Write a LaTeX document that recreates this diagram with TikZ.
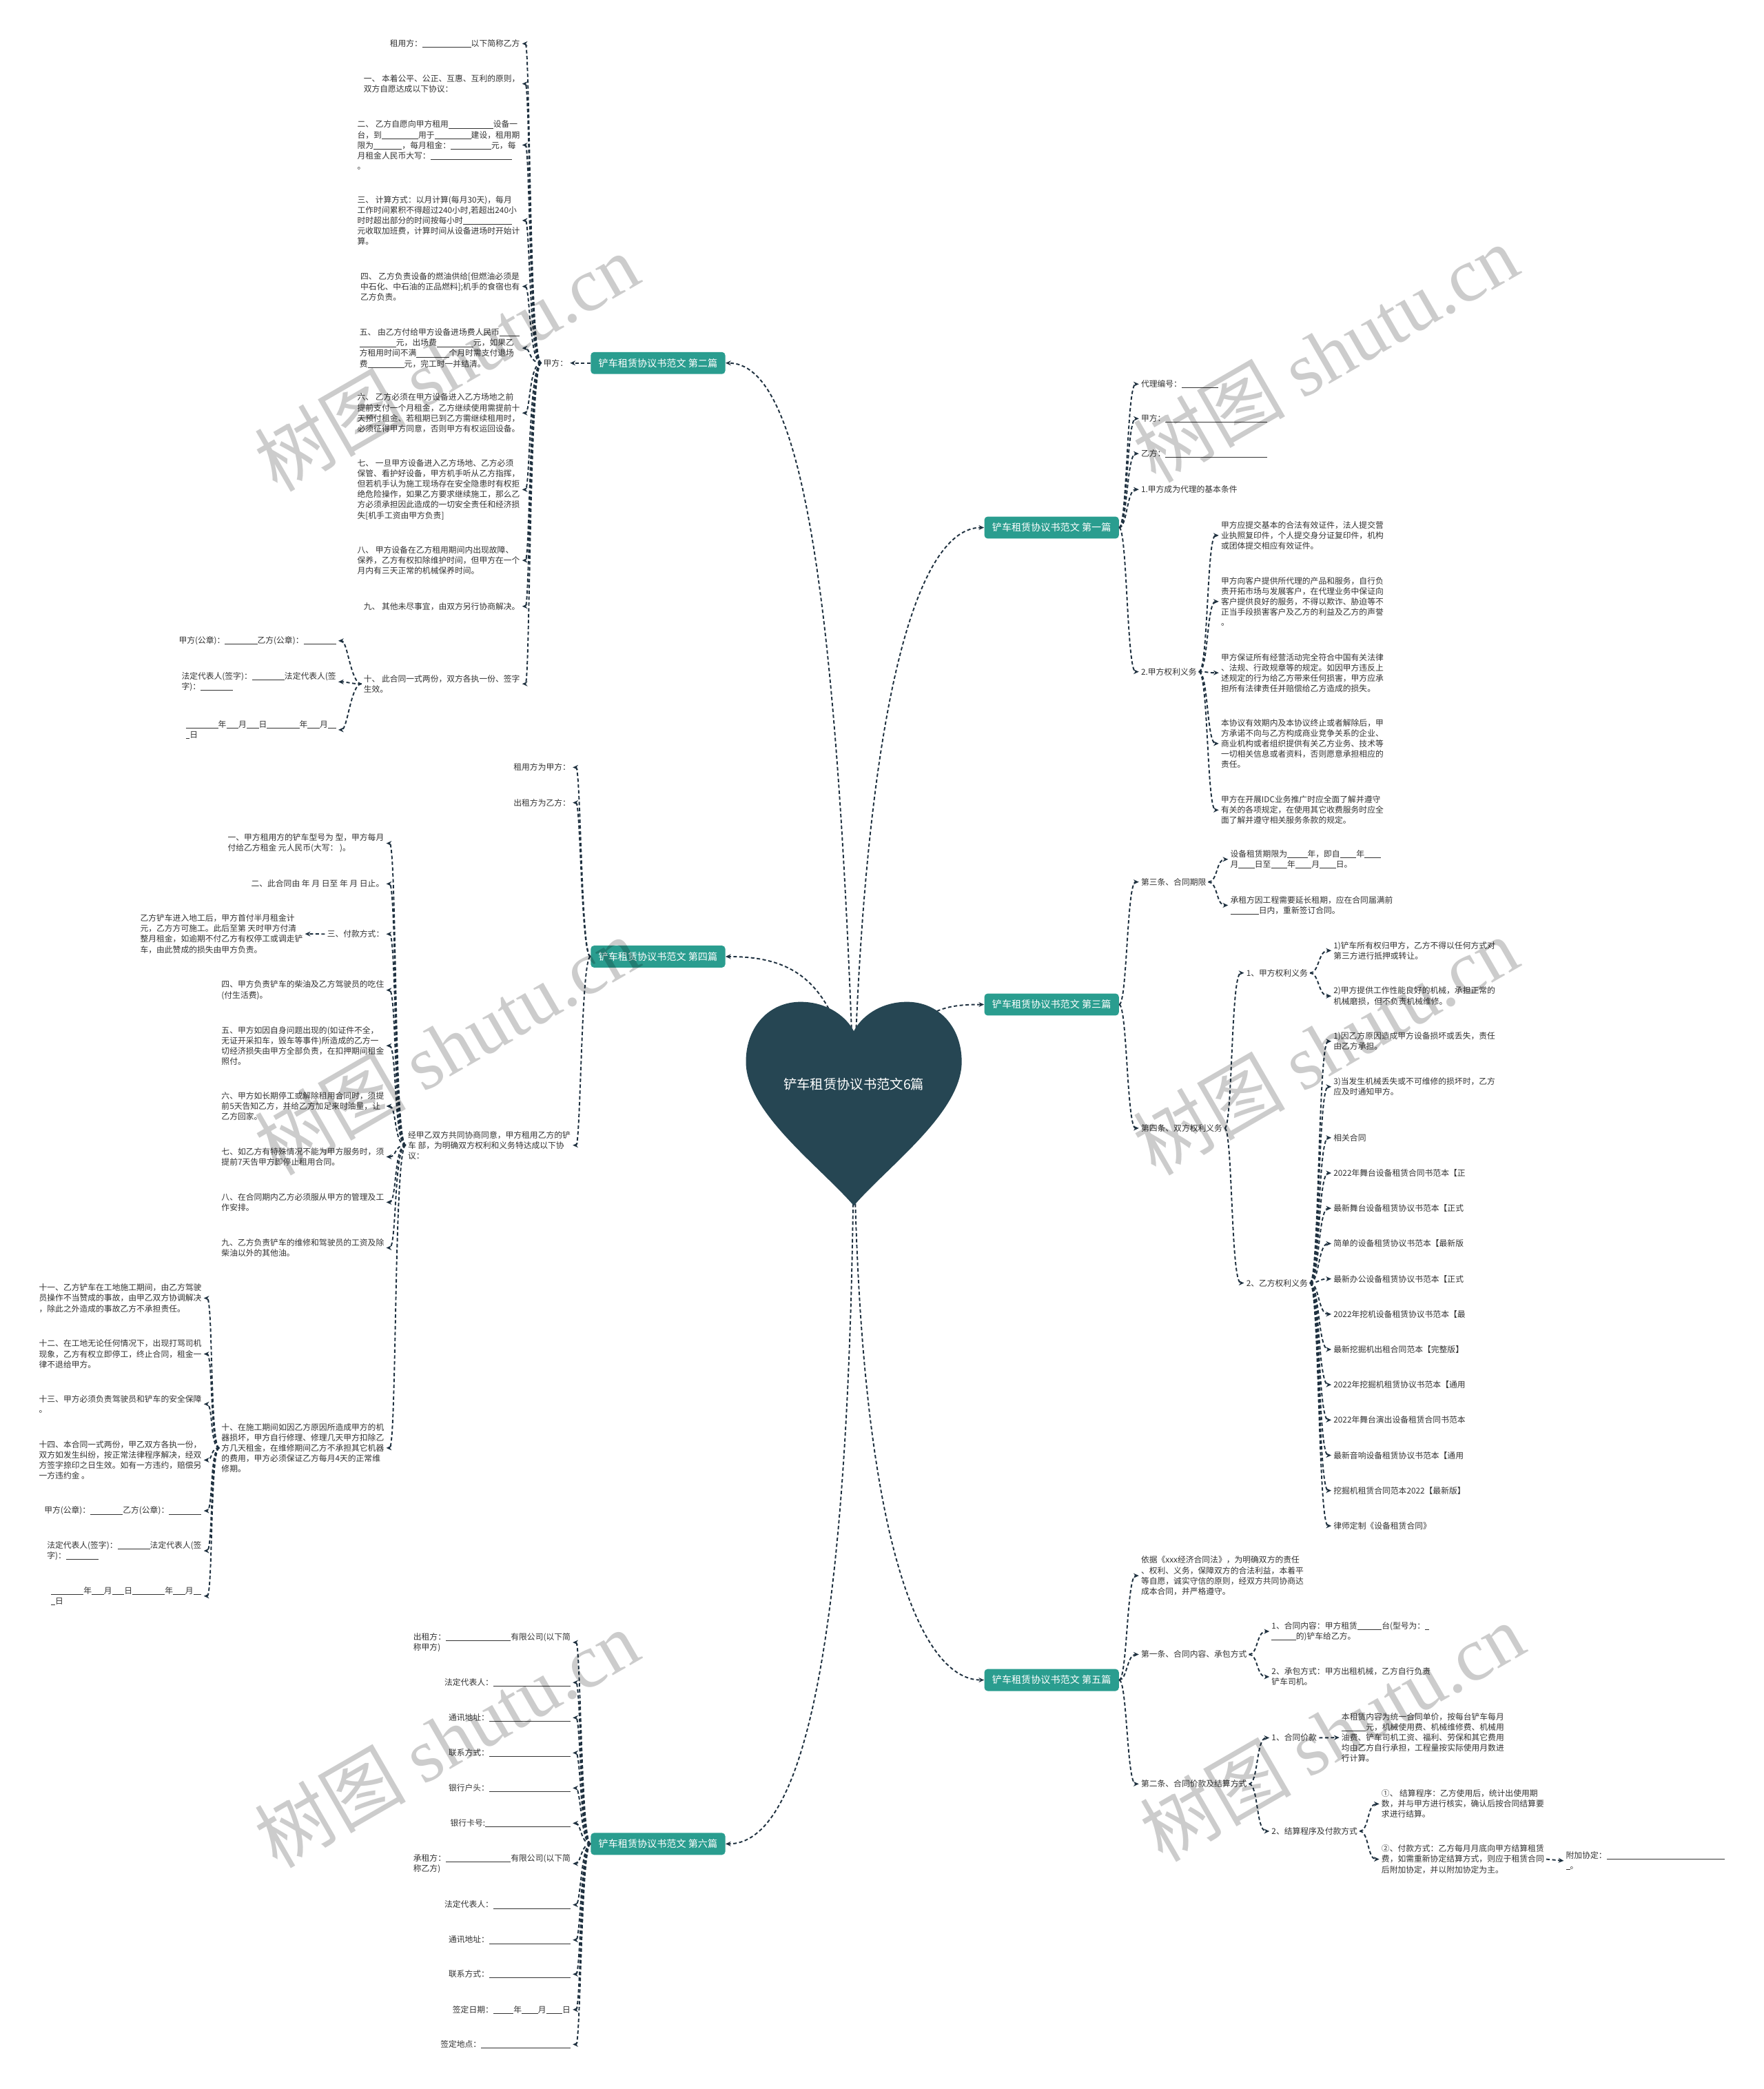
\documentclass[tikz,border=0pt]{standalone}
\usepackage{fontspec}
\setmainfont{Noto Sans CJK SC}
\newfontfamily\wmlatin{Liberation Serif}
\usetikzlibrary{arrows.meta}
\definecolor{raiz}{HTML}{264653}
\definecolor{rama}{HTML}{2A9D8F}
\definecolor{enlace}{HTML}{1F3140}
\definecolor{texto}{HTML}{333333}
\newcommand{\xblank}[1]{\rule[-0.12em]{\dimexpr#1em/2\relax}{0.06em}}

\begin{document}
\begin{tikzpicture}[x=1pt, y=-1pt,
  hoja/.style={font=\fontsize{6.1}{7.8}\selectfont, text=texto, inner sep=1.5pt, align=left},
  hojai/.style={hoja, anchor=east},
  hojad/.style={hoja, anchor=west},
  tema/.style={fill=rama, text=white, rounded corners=2.5pt, minimum width=101pt, minimum height=16.5pt, inner sep=0pt, font=\fontsize{7.3}{8}\selectfont},
  enl/.style={draw=enlace, line width=1pt, dash pattern=on 2.6pt off 1.8pt, -{Stealth[length=4pt,width=3.6pt]}},
  marca/.style={rotate=30, text=black, text opacity=0.2, font=\fontsize{57}{57}\selectfont}]
        \fill[white] (0,0) rectangle (1324,1568);
        \useasboundingbox (0,0) rectangle (1324,1568);
        \coordinate (hub) at (641,820);

        \node[tema] (t1) at (789.5,396) {铲车租赁协议书范文 第一篇};
        \node[tema] (t2) at (494,272.5) {铲车租赁协议书范文 第二篇};
        \node[tema] (t3) at (789.5,754) {铲车租赁协议书范文 第三篇};
        \node[tema] (t4) at (494,718) {铲车租赁协议书范文 第四篇};
        \node[tema] (t5) at (789.5,1261) {铲车租赁协议书范文 第五篇};
        \node[tema] (t6) at (494,1384) {铲车租赁协议书范文 第六篇};

        \draw[enl] (hub) .. controls (628,430) and (600,272.5) .. (t2.east);
        \draw[enl] (hub) .. controls (628,740) and (600,718) .. (t4.east);
        \draw[enl] (hub) .. controls (641,1250) and (600,1384) .. (t6.east);
        \draw[enl] (hub) .. controls (650,520) and (690,396) .. (t1.west);
        \draw[enl] (hub) .. controls (690,760) and (700,754) .. (t3.west);
        \draw[enl] (hub) .. controls (641,1150) and (690,1261) .. (t5.west);

        \fill[raiz] (641,905) .. controls (615,875) and (560,835) .. (560,797)
          .. controls (560,770) and (578,752) .. (601,752)
          .. controls (622,752) and (636,764) .. (641,774)
          .. controls (646,764) and (660,752) .. (681,752)
          .. controls (704,752) and (722,770) .. (722,797)
          .. controls (722,835) and (667,875) .. (641,905) -- cycle;
        \node[text=white, font=\fontsize{10}{12}\selectfont] (root) at (641,814) {铲车租赁协议书范文6篇};

        % 第二篇
        \node[hojai] (jf) at (428,272.5) {甲方：};
        \node[hojai] (a1) at (392,32.8) {租用方：\xblank{12}以下简称乙方};
        \node[hojai] (a2) at (392,62.9) {一、 本着公平、公正、互惠、互利的原则，\\双方自愿达成以下协议：};
        \node[hojai] (a3) at (392,108.9) {二、 乙方自愿向甲方租用\xblank{11}设备一\\台，到\xblank{9}用于\xblank{9}建设，租用期\\限为\xblank{7}，每月租金：\xblank{10}元，每\\月租金人民币大写：\xblank{20}\\。};
        \node[hojai] (a4) at (392,165.5) {三、 计算方式：以月计算(每月30天)，每月\\工作时间累积不得超过240小时,若超出240小\\时时超出部分的时间按每小时\xblank{12}\\元收取加班费，计算时间从设备进场时开始计\\算。};
        \node[hojai] (a5) at (392,215) {四、 乙方负责设备的燃油供给[但燃油必须是\\中石化、中石油的正品燃料];机手的食宿也有\\乙方负责。};
        \node[hojai] (a6) at (392,261.3) {五、 由乙方付给甲方设备进场费人民币\xblank{5}\\\xblank{9}元，出场费\xblank{9}元，如果乙\\方租用时间不满\xblank{8}个月时需支付退场\\费\xblank{9}元，完工时一并结清。};
        \node[hojai] (a7) at (392,310) {六、 乙方必须在甲方设备进入乙方场地之前\\提前支付一个月租金，乙方继续使用需提前十\\天预付租金、若租期已到乙方需继续租用时，\\必须征得甲方同意，否则甲方有权运回设备。};
        \node[hojai] (a8) at (392,367.5) {七、 一旦甲方设备进入乙方场地、乙方必须\\保管、看护好设备，甲方机手听从乙方指挥，\\但若机手认为施工现场存在安全隐患时有权拒\\绝危险操作，如果乙方要求继续施工，那么乙\\方必须承担因此造成的一切安全责任和经济损\\失[机手工资由甲方负责]};
        \node[hojai] (a9) at (392,420.6) {八、 甲方设备在乙方租用期间内出现故障、\\保养，乙方有权扣除维护时间，但甲方在一个\\月内有三天正常的机械保养时间。};
        \node[hojai] (a10) at (392,455.1) {九、 其他未尽事宜，由双方另行协商解决。};
        \node[hojai] (a11) at (392,513.3) {十、 此合同一式两份，双方各执一份、签字\\生效。};
        \node[hojai] (s1) at (254,481) {甲方(公章)：\xblank{8}乙方(公章)：\xblank{8}};
        \node[hojai] (s2) at (254,511.8) {法定代表人(签字)：\xblank{8}法定代表人(签\\字)：\xblank{8}};
        \node[hojai] (s3) at (254,547.8) {\xblank{8}年\xblank{3}月\xblank{3}日\xblank{8}年\xblank{3}月\xblank{2}\\\xblank{1}日};
        \draw[enl] (t2.west) -- (jf.east);
        \foreach \i in {1,...,11}
          \draw[enl] (jf.west) .. controls +(-9,0) and +(6,0) .. (a\i.east);
        \foreach \i in {1,2,3}
          \draw[enl] (a11.west) .. controls +(-8,0) and +(7,0) .. (s\i.east);

        % 第四篇
        \node[hojai] (u1) at (430,576) {租用方为甲方：};
        \node[hojai] (u2) at (430,602.5) {出租方为乙方：};
        \node[hojai] (u3) at (430,859.6) {经甲乙双方共同协商同意，甲方租用乙方的铲\\车 部，为明确双方权利和义务特达成以下协\\议：};
        \node[hojai] (v1) at (290,633) {一、甲方租用方的铲车型号为 型，甲方每月\\付给乙方租金 元人民币(大写： )。};
        \node[hojai] (v2) at (290,663.4) {二、此合同由 年 月 日至 年 月 日止。};
        \node[hojai] (v3) at (290,701.1) {三、付款方式：};
        \node[hojai] (v3x) at (229,701) {乙方铲车进入地工后，甲方首付半月租金计\\元，乙方方可施工。此后至第 天时甲方付清\\整月租金，如逾期不付乙方有权停工或调走铲\\车，由此赞成的损失由甲方负责。};
        \node[hojai] (v4) at (290,743.2) {四、甲方负责铲车的柴油及乙方驾驶员的吃住\\(付生活费)。};
        \node[hojai] (v5) at (290,784.9) {五、甲方如因自身问题出现的(如证件不全，\\无证开采扣车，毁车等事件)所造成的乙方一\\切经济损失由甲方全部负责，在扣押期间租金\\照付。};
        \node[hojai] (v6) at (290,830.3) {六、甲方如长期停工或解除租用合同时，须提\\前5天告知乙方，并给乙方加足来时油量，让\\乙方回家。};
        \node[hojai] (v7) at (290,868.3) {七、如乙方有特殊情况不能为甲方服务时，须\\提前7天告甲方即停止租用合同。};
        \node[hojai] (v8) at (290,902.4) {八、在合同期内乙方必须服从甲方的管理及工\\作安排。};
        \node[hojai] (v9) at (290,936.6) {九、乙方负责铲车的维修和驾驶员的工资及除\\柴油以外的其他油。};
        \node[hojai] (v10) at (290,1086.8) {十、在施工期间如因乙方原因所造成甲方的机\\器损坏，甲方自行修理、修理几天甲方扣除乙\\方几天租金，在维修期间乙方不承担其它机器\\的费用，甲方必须保证乙方每月4天的正常维\\修期。};
        \node[hojai] (w1) at (153,974.4) {十一、乙方铲车在工地施工期间，由乙方驾驶\\员操作不当赞成的事故，由甲乙双方协调解决\\，除此之外造成的事故乙方不承担责任。};
        \node[hojai] (w2) at (153,1016.3) {十二、在工地无论任何情况下，出现打骂司机\\现象，乙方有权立即停工，终止合同，租金一\\律不退给甲方。};
        \node[hojai] (w3) at (153,1053.9) {十三、甲方必须负责驾驶员和铲车的安全保障\\。};
        \node[hojai] (w4) at (153,1095.9) {十四、本合同一式两份，甲乙双方各执一份，\\双方如发生纠纷，按正常法律程序解决，经双\\方签字捺印之日生效。如有一方违约，赔偿另\\一方违约金 。};
        \node[hojai] (w5) at (153,1134) {甲方(公章)：\xblank{8}乙方(公章)：\xblank{8}};
        \node[hojai] (w6) at (153,1164) {法定代表人(签字)：\xblank{8}法定代表人(签\\字)：\xblank{8}};
        \node[hojai] (w7) at (153,1198) {\xblank{8}年\xblank{3}月\xblank{3}日\xblank{8}年\xblank{3}月\xblank{2}\\\xblank{1}日};
        \foreach \i in {1,2,3}
          \draw[enl] (t4.west) .. controls +(-7,0) and +(6,0) .. (u\i.east);
        \foreach \i in {1,...,10}
          \draw[enl] (u3.west) .. controls +(-9,0) and +(8,0) .. (v\i.east);
        \draw[enl] (v3.west) -- (v3x.east);
        \foreach \i in {1,...,7}
          \draw[enl] (v10.west) .. controls +(-7,0) and +(7,0) .. (w\i.east);

        % 第六篇
        \node[hojai] (d1) at (430,1232.8) {出租方：\xblank{16}有限公司(以下简\\称甲方)};
        \node[hojai] (d2) at (430,1262.9) {法定代表人：\xblank{19}};
        \node[hojai] (d3) at (430,1289.3) {通讯地址：\xblank{20}};
        \node[hojai] (d4) at (430,1315.7) {联系方式：\xblank{20}};
        \node[hojai] (d5) at (430,1342.1) {银行户头：\xblank{20}};
        \node[hojai] (d6) at (430,1368.5) {银行卡号:\xblank{21}};
        \node[hojai] (d7) at (430,1398.8) {承租方：\xblank{16}有限公司(以下简\\称乙方)};
        \node[hojai] (d8) at (430,1429.7) {法定代表人：\xblank{19}};
        \node[hojai] (d9) at (430,1456.1) {通讯地址：\xblank{20}};
        \node[hojai] (d10) at (430,1481.8) {联系方式：\xblank{20}};
        \node[hojai] (d11) at (430,1508.4) {签定日期：\xblank{5}年\xblank{4}月\xblank{4}日};
        \node[hojai] (d12) at (430,1534.5) {签定地点：\xblank{22}};
        \foreach \i in {1,...,12}
          \draw[enl] (t6.west) .. controls +(-7,0) and +(6,0) .. (d\i.east);

        % 第一篇
        \node[hojad] (e1) at (855,288.3) {代理编号：\xblank{9}};
        \node[hojad] (e2) at (855,314.2) {甲方：\xblank{25}};
        \node[hojad] (e3) at (855,340.5) {乙方：\xblank{25}};
        \node[hojad] (e4) at (855,367.4) {1.甲方成为代理的基本条件};
        \node[hojad] (e5) at (855,504.2) {2.甲方权利义务};
        \node[hojad] (f1) at (915,401.9) {甲方应提交基本的合法有效证件，法人提交营\\业执照复印件，个人提交身分证复印件，机构\\或团体提交相应有效证件。};
        \node[hojad] (f2) at (915,451.5) {甲方向客户提供所代理的产品和服务，自行负\\责开拓市场与发展客户，在代理业务中保证向\\客户提供良好的服务，不得以欺诈、胁迫等不\\正当手段损害客户及乙方的利益及乙方的声誉\\。};
        \node[hojad] (f3) at (915,505) {甲方保证所有经营活动完全符合中国有关法律\\、法规、行政规章等的规定。如因甲方违反上\\述规定的行为给乙方带来任何损害，甲方应承\\担所有法律责任并赔偿给乙方造成的损失。};
        \node[hojad] (f4) at (915,558.1) {本协议有效期内及本协议终止或者解除后，甲\\方承诺不向与乙方构成商业竞争关系的企业、\\商业机构或者组织提供有关乙方业务、技术等\\一切相关信息或者资料，否则愿意承担相应的\\责任。};
        \node[hojad] (f5) at (915,608) {甲方在开展IDC业务推广时应全面了解并遵守\\有关的各项规定，在使用其它收费服务时应全\\面了解并遵守相关服务条款的规定。};
        \foreach \i in {1,...,5}
          \draw[enl] (t1.east) .. controls +(6,0) and +(-9,0) .. (e\i.west);
        \foreach \i in {1,...,5}
          \draw[enl] (e5.east) .. controls +(7,0) and +(-9,0) .. (f\i.west);

        % 第三篇
        \node[hojad] (g1) at (855,662) {第三条、合同期限};
        \node[hojad] (g2) at (855,846.8) {第四条、双方权利义务};
        \node[hojad] (h1) at (922,645) {设备租赁期限为\xblank{5}年，即自\xblank{4}年\xblank{4}\\月\xblank{4}日至\xblank{4}年\xblank{4}月\xblank{4}日。};
        \node[hojad] (h2) at (922,679.5) {承租方因工程需要延长租期，应在合同届满前\\\xblank{7}日内，重新签订合同。};
        \node[hojad] (i1) at (934,730.3) {1、甲方权利义务};
        \node[hojad] (i2) at (934,963) {2、乙方权利义务};
        \node[hojad] (j1) at (999.5,713.5) {1)铲车所有权归甲方，乙方不得以任何方式对\\第三方进行抵押或转让。};
        \node[hojad] (j2) at (999.5,747.6) {2)甲方提供工作性能良好的机械，承担正常的\\机械磨损，但不负责机械维修。};
        \node[hojad] (k1) at (999.5,781.6) {1)因乙方原因造成甲方设备损坏或丢失，责任\\由乙方承担。};
        \node[hojad] (k2) at (999.5,815.7) {3)当发生机械丢失或不可维修的损坏时，乙方\\应及时通知甲方。};
        \foreach \tit [count=\i] in {相关合同, 2022年舞台设备租赁合同书范本【正, 最新舞台设备租赁协议书范本【正式,
                                   简单的设备租赁协议书范本【最新版, 最新办公设备租赁协议书范本【正式,
                                   2022年挖机设备租赁协议书范本【最, 最新挖掘机出租合同范本【完整版】,
                                   2022年挖掘机租赁协议书范本【通用, 2022年舞台演出设备租赁合同书范本,
                                   最新音响设备租赁协议书范本【通用, 挖掘机租赁合同范本2022【最新版】,
                                   律师定制《设备租赁合同》}{
          \node[hojad] (rel\i) at (999.5,{854+26.48*(\i-1)}) {\tit};
          \draw[enl] (i2.east) .. controls +(7,0) and +(-10,0) .. (rel\i.west);
        }
        \draw[enl] (t3.east) .. controls +(6,0) and +(-9,0) .. (g1.west);
        \draw[enl] (t3.east) .. controls +(6,0) and +(-9,0) .. (g2.west);
        \foreach \i in {1,2}
          \draw[enl] (g1.east) .. controls +(7,0) and +(-9,0) .. (h\i.west);
        \foreach \i in {1,2}
          \draw[enl] (g2.east) .. controls +(6,0) and +(-10,0) .. (i\i.west);
        \foreach \i in {1,2}
          \draw[enl] (i1.east) .. controls +(7,0) and +(-10,0) .. (j\i.west);
        \foreach \i in {1,2}
          \draw[enl] (i2.east) .. controls +(7,0) and +(-10,0) .. (k\i.west);

        % 第五篇
        \node[hojad] (l1) at (855,1182.7) {依据《xxx经济合同法》，为明确双方的责任\\、权利、义务，保障双方的合法利益，本着平\\等自愿，诚实守信的原则，经双方共同协商达\\成本合同，并严格遵守。};
        \node[hojad] (l2) at (855,1241.8) {第一条、合同内容、承包方式};
        \node[hojad] (l3) at (855,1339) {第二条、合同价款及结算方式};
        \node[hojad] (m1) at (953,1224.5) {1、合同内容：甲方租赁\xblank{6}台(型号为：\xblank{1}\\\xblank{6}的)铲车给乙方。};
        \node[hojad] (m2) at (953,1258.6) {2、承包方式：甲方出租机械，乙方自行负责\\铲车司机。};
        \node[hojad] (n1) at (953,1304.4) {1、合同价款};
        \node[hojad] (n2) at (953,1374.5) {2、结算程序及付款方式};
        \node[hojad] (o1) at (1005.5,1304.2) {本租赁内容为统一合同单价，按每台铲车每月\\\xblank{6}元，机械使用费、机械维修费、机械用\\油费、铲车司机工资、福利、劳保和其它费用\\均由乙方自行承担，工程量按实际使用月数进\\行计算。};
        \node[hojad] (p1) at (1035.5,1354) {①、 结算程序：乙方使用后，统计出使用期\\数，并与甲方进行核实，确认后按合同结算要\\求进行结算。};
        \node[hojad] (p2) at (1035.5,1395.5) {②、付款方式：乙方每月月底向甲方结算租赁\\费，如需重新协定结算方式，则应于租赁合同\\后附加协定，并以附加协定为主。};
        \node[hojad] (q1) at (1174,1396.7) {附加协定：\xblank{29}\\\xblank{1}。};
        \foreach \i in {1,2,3}
          \draw[enl] (t5.east) .. controls +(6,0) and +(-9,0) .. (l\i.west);
        \foreach \i in {1,2}
          \draw[enl] (l2.east) .. controls +(7,0) and +(-10,0) .. (m\i.west);
        \foreach \i in {1,2}
          \draw[enl] (l3.east) .. controls +(7,0) and +(-10,0) .. (n\i.west);
        \draw[enl] (n1.east) -- (o1.west);
        \foreach \i in {1,2}
          \draw[enl] (n2.east) .. controls +(7,0) and +(-9,0) .. (p\i.west);
        \draw[enl] (p2.east) -- (q1.west);

        \foreach \wx/\wy [count=\k] in {335/272, 995/265, 335/785, 995/785, 335/1305, 1000/1300}
          \node[marca] (marca\k) at (\wx,\wy) {树图 {\wmlatin shutu.cn}};
      \end{tikzpicture}
\end{document}
